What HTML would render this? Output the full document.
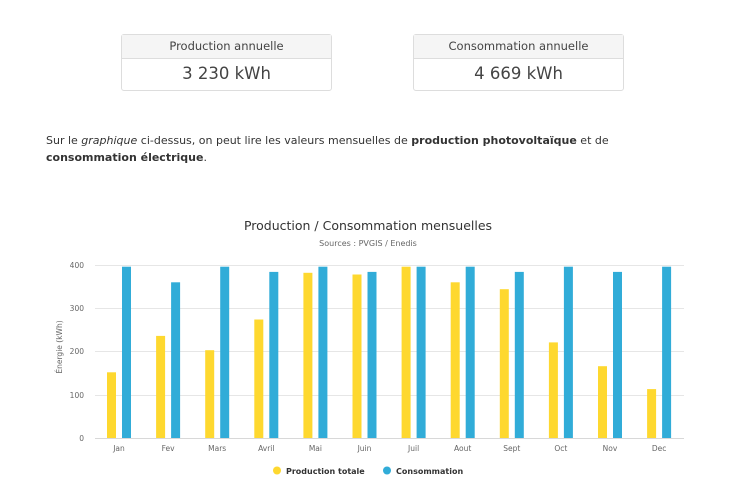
<!DOCTYPE html>
<html><head><meta charset="utf-8"><style>
body{margin:0;width:751px;height:487px;background:#fff;font-family:"DejaVu Sans","Liberation Sans",sans-serif;color:#333;position:relative;overflow:hidden}
.card{position:absolute;top:34px;width:211px;height:57px;border:1px solid #ddd;border-radius:3px;box-sizing:border-box}
.card .h{height:23px;background:#f5f5f5;border-bottom:1px solid #ddd;text-align:center;font-size:11.5px;line-height:23px;color:#444}
.card .v{text-align:center;font-size:16.5px;line-height:29px;color:#444}
p{position:absolute;left:46px;top:132px;margin:0;font-size:11px;line-height:17px;width:640px;color:#333}
</style></head><body>
<div class="card" style="left:121px"><div class="h">Production annuelle</div><div class="v">3 230 kWh</div></div>
<div class="card" style="left:413px"><div class="h">Consommation annuelle</div><div class="v">4 669 kWh</div></div>
<p>Sur le <i>graphique</i> ci-dessus, on peut lire les valeurs mensuelles de <b>production photovoltaïque</b> et de<br><b>consommation électrique</b>.</p>
<svg width="751" height="487" style="position:absolute;left:0;top:0" font-family="DejaVu Sans, Liberation Sans, sans-serif">
<text x="368" y="230" text-anchor="middle" font-size="12.5" fill="#333">Production / Consommation mensuelles</text>
<text x="368" y="246" text-anchor="middle" font-size="8" fill="#666">Sources : PVGIS / Enedis</text>
<g stroke="#e6e6e6" stroke-width="1">
<line x1="95" x2="684" y1="265.5" y2="265.5"/><line x1="95" x2="684" y1="308.5" y2="308.5"/><line x1="95" x2="684" y1="351.5" y2="351.5"/><line x1="95" x2="684" y1="395.5" y2="395.5"/>
</g>
<line x1="95" x2="684" y1="438.5" y2="438.5" stroke="#d8d8d8"/>
<g font-size="7.5" fill="#666" text-anchor="end">
<text x="84" y="268">400</text><text x="84" y="311">300</text><text x="84" y="354">200</text><text x="84" y="398">100</text><text x="84" y="441">0</text>
</g>
<text transform="translate(62,347) rotate(-90)" text-anchor="middle" font-size="7.5" fill="#666">Énergie (kWh)</text>
<g transform="translate(0,438) scale(1,-1)">
<g fill="#fed82f">
<rect x="107" width="9" height="65.7"/><rect x="156.1" width="9" height="102.1"/><rect x="205.2" width="9" height="87.8"/><rect x="254.3" width="9" height="118.5"/><rect x="303.4" width="9" height="165.2"/><rect x="352.5" width="9" height="163.5"/><rect x="401.6" width="9" height="171.3"/><rect x="450.7" width="9" height="155.7"/><rect x="499.8" width="9" height="148.8"/><rect x="548.9" width="9" height="95.6"/><rect x="598" width="9" height="71.8"/><rect x="647.1" width="9" height="48.9"/>
</g>
<g fill="#31acd8">
<rect x="122" width="9" height="171.3"/><rect x="171.1" width="9" height="155.7"/><rect x="220.2" width="9" height="171.3"/><rect x="269.3" width="9" height="166.1"/><rect x="318.4" width="9" height="171.3"/><rect x="367.5" width="9" height="166.1"/><rect x="416.6" width="9" height="171.3"/><rect x="465.7" width="9" height="171.3"/><rect x="514.8" width="9" height="166.1"/><rect x="563.9" width="9" height="171.3"/><rect x="613" width="9" height="166.1"/><rect x="662.1" width="9" height="171.3"/>
</g>
</g>
<g font-size="7.5" fill="#666" text-anchor="middle">
<text x="119" y="451">Jan</text><text x="168.1" y="451">Fev</text><text x="217.2" y="451">Mars</text><text x="266.3" y="451">Avril</text><text x="315.4" y="451">Mai</text><text x="364.5" y="451">Juin</text><text x="413.6" y="451">Juil</text><text x="462.7" y="451">Aout</text><text x="511.8" y="451">Sept</text><text x="560.9" y="451">Oct</text><text x="610" y="451">Nov</text><text x="659.1" y="451">Dec</text>
</g>
<circle cx="277" cy="470.5" r="4" fill="#fed82f"/>
<text x="286" y="474" font-size="8" font-weight="bold" fill="#333">Production totale</text>
<circle cx="387" cy="470.5" r="4" fill="#31acd8"/>
<text x="396" y="474" font-size="8" font-weight="bold" fill="#333">Consommation</text>
</svg>
</body></html>
